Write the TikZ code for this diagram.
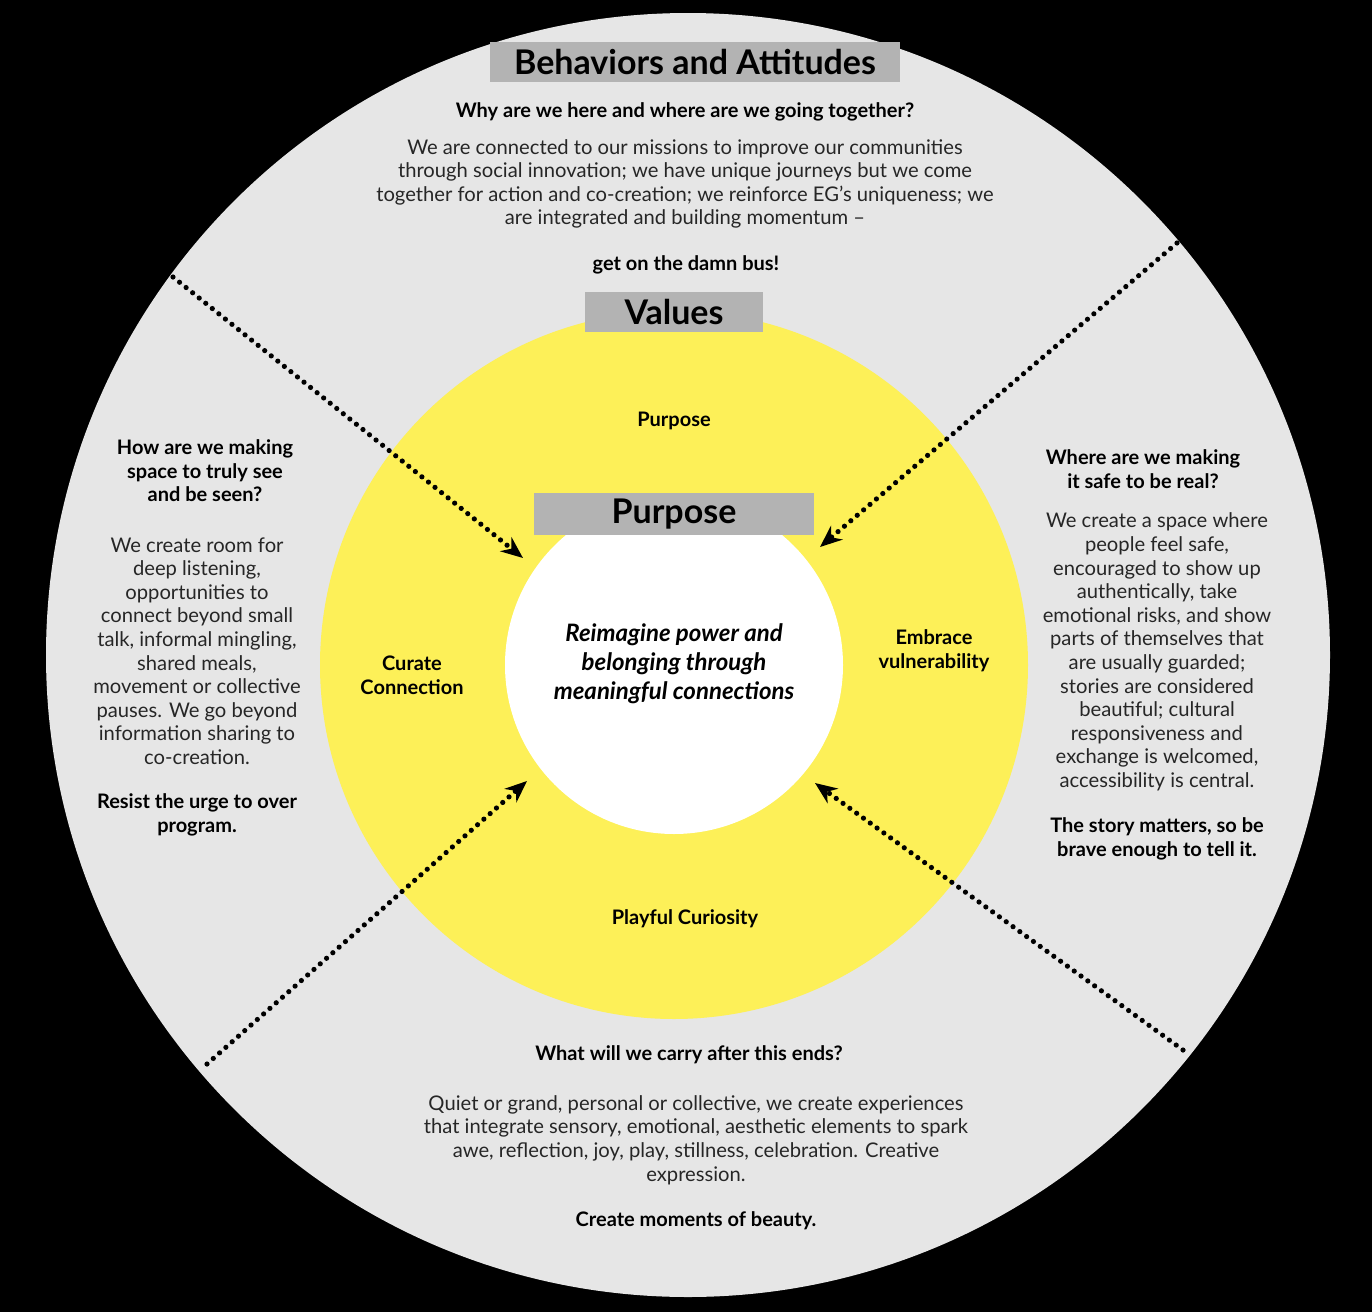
\documentclass[tikz,border=0pt]{standalone}
\usepackage{fontspec}
\setmainfont{Lato}
\usetikzlibrary{arrows.meta}
\definecolor{ring}{HTML}{E6E6E6}
\definecolor{yel}{HTML}{FDF058}
\definecolor{lab}{HTML}{B3B3B3}
\begin{document}
\begin{tikzpicture}[x=0.5pt,y=-0.5pt,
  body/.style={align=center,font=\fontsize{10.1}{11.8}\selectfont,text=black!85},
  q/.style={align=center,font=\fontsize{10}{11.8}\selectfont\bfseries},
  ttl/.style={fill=lab,inner sep=0pt,font=\bfseries},
  arr/.style={line width=2.6pt,dash pattern=on 0pt off 4.2pt,line cap=round,-{Stealth[length=11pt,width=9pt,line cap=butt]}}]
\fill[black] (0,0) rectangle (1372,1312);
\useasboundingbox (0,0) rectangle (1372,1312);
\fill[ring] (688,655) circle (642);
\fill[yel] (674,665) circle (354);
\fill[white] (674,665) circle (169);
\node[ttl,minimum width=205pt,minimum height=20pt,font=\fontsize{17}{20}\selectfont\bfseries] (t1) at (695,62) {Behaviors and Attitudes};
\node[ttl,minimum width=89pt,minimum height=20pt,font=\fontsize{17}{20}\selectfont\bfseries] (t2) at (674,312) {Values};
\node[ttl,minimum width=140pt,minimum height=21pt,font=\fontsize{17}{20}\selectfont\bfseries] (t3) at (674,514) {Purpose};
\node[q] (q1) at (685,112) {Why are we here and where are we going together?};
\node[body] (p1) at (685,184) {We are connected to our missions to improve our communities\\through social innovation; we have unique journeys but we come\\together for action and co-creation; we reinforce EG’s uniqueness; we\\are integrated and building momentum –};
\node[q] (b1) at (686,265) {get on the damn bus!};
\node[q] (v1) at (674,421) {Purpose};
\node[q] (v2) at (412,675) {Curate\\Connection};
\node[q] (v3) at (934,651) {Embrace\\vulnerability};
\node[q] (v4) at (685,919) {Playful Curiosity};
\node[align=center,font=\fontsize{12}{14.5}\selectfont\bfseries\itshape] (c) at (674,664) {Reimagine power and\\belonging through\\meaningful connections};
\node[q] (q2) at (205,471) {How are we making\\space to truly see\\and be seen?};
\node[body] (p2) at (197,651) {We create room for\\deep listening,\\opportunities to\\connect beyond small\\talk, informal mingling,\\shared meals,\\movement or collective\\pauses. We go beyond\\information sharing to\\co-creation.};
\node[q] (b2) at (197,815) {Resist the urge to over\\program.};
\node[q] (q3) at (1143,469) {Where are we making\\it safe to be real?};
\node[body] (p3) at (1157,652) {We create a space where\\people feel safe,\\encouraged to show up\\authentically, take\\emotional risks, and show\\parts of themselves that\\are usually guarded;\\stories are considered\\beautiful; cultural\\responsiveness and\\exchange is welcomed,\\accessibility is central.};
\node[q] (b3) at (1157,839) {The story matters, so be\\brave enough to tell it.};
\node[q] (q4) at (689,1055) {What will we carry after this ends?};
\node[body] (p4) at (696,1140) {Quiet or grand, personal or collective, we create experiences\\that integrate sensory, emotional, aesthetic elements to spark\\awe, reflection, joy, play, stillness, celebration. Creative\\expression.};
\node[q] (b4) at (696,1221) {Create moments of beauty.};
\coordinate (a1) at (173,277); \coordinate (e1) at (523,558);
\coordinate (a2) at (1177,243); \coordinate (e2) at (820,547);
\coordinate (a3) at (207,1064); \coordinate (e3) at (527,781);
\coordinate (a4) at (1183,1050); \coordinate (e4) at (815,783);
\draw[arr] (a1) -- (e1);
\draw[arr] (a2) -- (e2);
\draw[arr] (a3) -- (e3);
\draw[arr] (a4) -- (e4);
\end{tikzpicture}
\end{document}
